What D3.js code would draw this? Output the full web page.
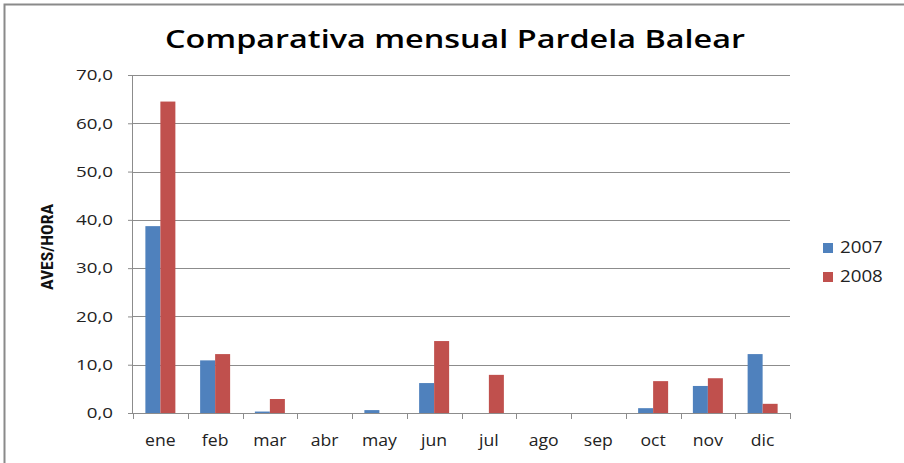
<!DOCTYPE html>
<head>
<meta charset="utf-8">
<title>Comparativa mensual Pardela Balear</title>
<style>
body { margin: 0; background: #fff; }
</style>
</head>
<body>
<svg id="chart" width="904" height="463"></svg>
<script src="https://cdn.jsdelivr.net/npm/d3@7"></script>
<script>
// data
var months = ["ene", "feb", "mar", "abr", "may", "jun", "jul", "ago", "sep", "oct", "nov", "dic"];
var years = ["2007", "2008"];
var values2007 = [38.7, 10.9, 0.3, 0, 0.6, 6.2, 0, 0, 0, 1.0, 5.6, 12.2];
var values2008 = [64.5, 12.2, 2.9, 0, 0, 14.9, 7.9, 0, 0, 6.6, 7.2, 1.9];
var yTicks = [0, 10, 20, 30, 40, 50, 60, 70];
var colors = ["#4F81BD", "#C0504D"];

var svg = d3.select("svg");
var margin = {top: 75, left: 133, right: 114, bottom: 50};
var width = 790 - margin.left;
var height = 413 - margin.top;

// the source picture is a bit stretched sideways, so widen text to match
function stretch(sel, k) {
    sel.each(function() {
        var w = this.getComputedTextLength();
        d3.select(this).attr("textLength", w * k).attr("lengthAdjust", "spacingAndGlyphs");
    });
}

// outer chart border (cut off at right and bottom)
svg.append("rect")
    .attr("x", 4.5).attr("y", 4.5)
    .attr("width", 1000).attr("height", 1000)
    .attr("fill", "none")
    .attr("stroke", "#8a8a8a")
    .attr("stroke-width", 2);

var g = svg.append("g").attr("transform", "translate(" + margin.left + "," + margin.top + ")");

var x = d3.scaleBand().domain(months).range([0, width]);
var x1 = d3.scaleBand().domain(years).range([0, 30]);
var y = d3.scaleLinear().domain([0, 70]).range([height, 0]);

// gridlines
g.selectAll(".grid")
    .data(yTicks.slice(1))
    .enter().append("line")
    .attr("x1", 0).attr("x2", width)
    .attr("y1", function(d) { return Math.round(y(d)) + 0.5; })
    .attr("y2", function(d) { return Math.round(y(d)) + 0.5; })
    .attr("stroke", "#8c8c8c")
    .attr("stroke-width", 1);

// bars
var data = months.map(function(m, i) {
    return {month: m, vals: [values2007[i], values2008[i]]};
});
var group = g.selectAll(".month")
    .data(data)
    .enter().append("g")
    .attr("transform", function(d) { return "translate(" + (x(d.month) + x.bandwidth() / 2 - 15) + ",0)"; });
group.selectAll("rect")
    .data(function(d) { return d.vals.map(function(v, i) { return {year: years[i], v: v, i: i}; }); })
    .enter().append("rect")
    .attr("x", function(d) { return x1(d.year); })
    .attr("width", x1.bandwidth())
    .attr("y", function(d) { return y(d.v); })
    .attr("height", function(d) { return height - y(d.v); })
    .attr("fill", function(d) { return colors[d.i]; });

// y axis
var yAxis = g.append("g")
    .call(d3.axisLeft(y).tickValues(yTicks).tickSize(5).tickPadding(15)
        .tickFormat(function(d) { return d3.format(".1f")(d).replace(".", ","); }));
yAxis.select(".domain").attr("stroke", "#8c8c8c").attr("d", "M-0.5," + (height + 0.5) + "V0.5");
yAxis.selectAll(".tick line").attr("stroke", "#8c8c8c");
yAxis.selectAll("text")
    .style("font", "15px 'Open Sans', sans-serif")
    .attr("fill", "#222")
    .call(stretch, 1.25);

// x axis
var xAxisG = g.append("g").attr("transform", "translate(0," + height + ")");
xAxisG.append("line")
    .attr("x1", 0).attr("x2", width).attr("y1", 0.5).attr("y2", 0.5)
    .attr("stroke", "#8c8c8c");
xAxisG.selectAll(".xt")
    .data(months.concat(["end"]))
    .enter().append("line")
    .attr("x1", function(d, i) { return Math.round(i * x.step()) + 0.5; })
    .attr("x2", function(d, i) { return Math.round(i * x.step()) + 0.5; })
    .attr("y1", 0).attr("y2", 6)
    .attr("stroke", "#8c8c8c");
xAxisG.selectAll(".xl")
    .data(months)
    .enter().append("text")
    .attr("x", function(d) { return x(d) + x.bandwidth() / 2; })
    .attr("y", 33)
    .attr("text-anchor", "middle")
    .attr("fill", "#222")
    .style("font", "16px 'Open Sans', sans-serif")
    .text(function(d) { return d; })
    .call(stretch, 1.1);

// y axis title
svg.append("text")
    .attr("transform", "translate(53,247) rotate(-90)")
    .attr("text-anchor", "middle")
    .attr("fill", "#111")
    .style("font", "bold 16px 'Liberation Sans Narrow', 'Roboto Condensed', 'Liberation Sans', sans-serif")
    .attr("textLength", 86)
    .attr("lengthAdjust", "spacingAndGlyphs")
    .text("AVES/HORA");

// chart title
svg.append("text")
    .attr("x", 455)
    .attr("y", 48)
    .attr("text-anchor", "middle")
    .attr("fill", "#000")
    .style("font", "600 26px 'Open Sans', sans-serif")
    .attr("textLength", 580)
    .attr("lengthAdjust", "spacingAndGlyphs")
    .text("Comparativa mensual Pardela Balear");

// legend
var legend = svg.selectAll(".legend")
    .data(years)
    .enter().append("g")
    .attr("transform", function(d, i) { return "translate(823," + (243 + i * 29) + ")"; });
legend.append("rect")
    .attr("width", 10).attr("height", 10)
    .attr("fill", function(d, i) { return colors[i]; });
legend.append("text")
    .attr("x", 17).attr("y", 10)
    .attr("fill", "#222")
    .style("font", "16px 'Open Sans', sans-serif")
    .text(function(d) { return d; })
    .call(stretch, 1.17);
</script>
</body>
